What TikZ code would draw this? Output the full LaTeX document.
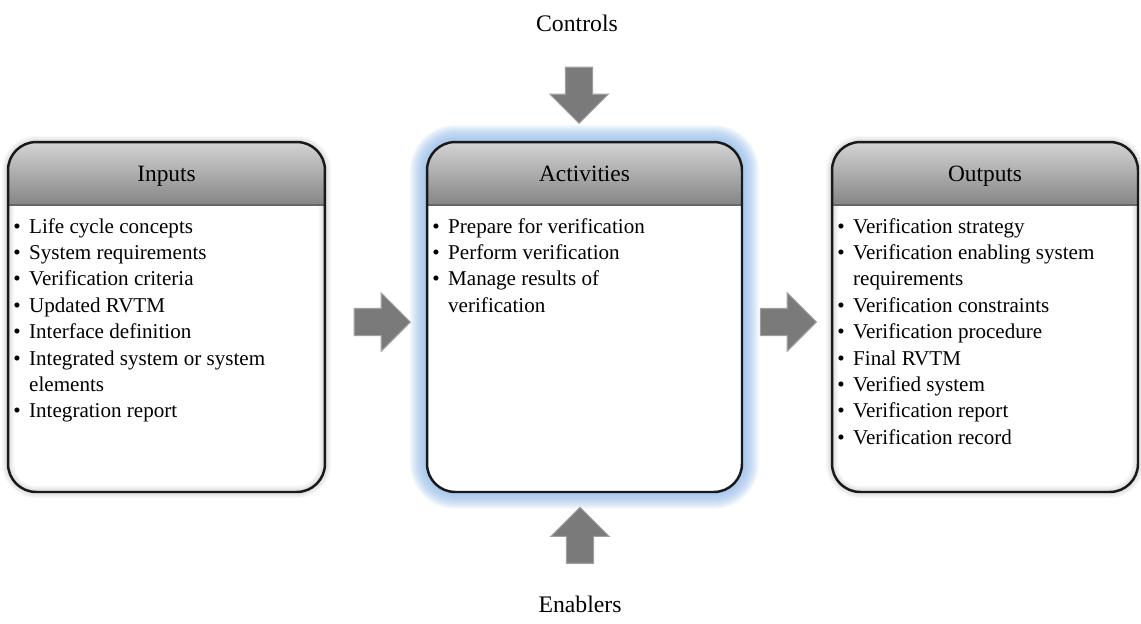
\documentclass[tikz,border=0pt]{standalone}
\usepackage{fontspec}
\setmainfont{Liberation Serif}
\usetikzlibrary{calc,positioning,shapes.arrows}
\definecolor{glowblue}{HTML}{8DB6E6}
\newcommand{\lbul}{\makebox[9pt][l]{\textbullet}}
\newcommand{\lcont}{\hspace*{9pt}}
\tikzset{
  procbox/.style={rectangle, rounded corners=16pt, fill=white, inner sep=0pt, outer sep=0pt, minimum height=7cm},
  boxframe/.style={draw=black!90, line width=1.4pt, rounded corners=16pt},
  boxhead/.style={top color=black!17, bottom color=black!48},
  boxtitle/.style={font=\fontsize{13.3}{16}\selectfont, inner sep=0pt, anchor=base},
  boxlist/.style={anchor=north west, align=left, inner sep=0pt, font=\fontsize{12}{15}\selectfont},
  flowarrow/.style={single arrow, single arrow head extend=0.31cm, single arrow tip angle=90,
    inner xsep=0pt, inner ysep=0.26cm, minimum height=1.12cm, fill=black!52, draw=black!38, line width=0.6pt},
  sidelabel/.style={font=\fontsize{13.5}{16}\selectfont, inner sep=0pt}
}

\begin{document}
\begin{tikzpicture}[x=0.02cm, y=-0.02cm]
  \useasboundingbox (0,0) rectangle (1141,623);

  % the three process boxes (white bodies)
  \path (166.5,317) node[procbox, minimum width=6.34cm] (inputs) {};
  \path (584.5,317) node[procbox, minimum width=6.3cm] (activities) {};
  \path (985,317) node[procbox, minimum width=6.12cm] (outputs) {};

  % soft halo around the side boxes, blue glow around the middle one
  \foreach \g in {1,...,6}
    \draw[black, opacity=0.025, line width=\g*1.2pt, rounded corners=16pt]
      (inputs.north west) rectangle (inputs.south east)
      (outputs.north west) rectangle (outputs.south east);
  \foreach \g in {1,...,12}
    \draw[glowblue, opacity=0.11, line width=\g*1.6pt, rounded corners=16pt]
      (activities.north west) rectangle (activities.south east);
  \fill[white, rounded corners=16pt] (activities.north west) rectangle (activities.south east);

  % grey headers
  \foreach \b in {inputs,activities,outputs}{
    \begin{scope}
      \clip[rounded corners=16pt] (\b.north west) rectangle (\b.south east);
      \shade[boxhead] (\b.north west) rectangle ([yshift=-1.26cm]\b.north east);
      \draw[black!60, line width=0.8pt] ([yshift=-1.26cm]\b.north west) -- ([yshift=-1.26cm]\b.north east);
    \end{scope}
    \draw[boxframe] (\b.north west) rectangle (\b.south east);
  }

  \node[boxtitle] (inputsTitle) at ([yshift=-0.78cm]inputs.north) {Inputs};
  \node[boxtitle] (activitiesTitle) at ([yshift=-0.78cm]activities.north) {Activities};
  \node[boxtitle] (outputsTitle) at ([yshift=-0.78cm]outputs.north) {Outputs};

  \node[boxlist] (inputsList) at ([xshift=0.1cm, yshift=-1.52cm]inputs.north west)
    {\lbul Life cycle concepts\\
     \lbul System requirements\\
     \lbul Verification criteria\\
     \lbul Updated RVTM\\
     \lbul Interface definition\\
     \lbul Integrated system or system\\
     \lcont elements\\
     \lbul Integration report};
  \node[boxlist] (activitiesList) at ([xshift=0.1cm, yshift=-1.52cm]activities.north west)
    {\lbul Prepare for verification\\
     \lbul Perform verification\\
     \lbul Manage results of\\
     \lcont verification};
  \node[boxlist] (outputsList) at ([xshift=0.1cm, yshift=-1.52cm]outputs.north west)
    {\lbul Verification strategy\\
     \lbul Verification enabling system\\
     \lcont requirements\\
     \lbul Verification constraints\\
     \lbul Verification procedure\\
     \lbul Final RVTM\\
     \lbul Verified system\\
     \lbul Verification report\\
     \lbul Verification record};

  % block arrows
  \node[flowarrow] (inArrow) at (375.5,322) {};
  \node[flowarrow] (outArrow) at (781.5,322) {};
  \node[flowarrow, rotate=270] (ctrlArrow) at (579,88.5) {};
  \node[flowarrow, rotate=90] (enblArrow) at (580,542) {};

  \node[sidelabel] (controls) at (577,23) {Controls};
  \node[sidelabel] (enablers) at (580,604) {Enablers};
\end{tikzpicture}
\end{document}
